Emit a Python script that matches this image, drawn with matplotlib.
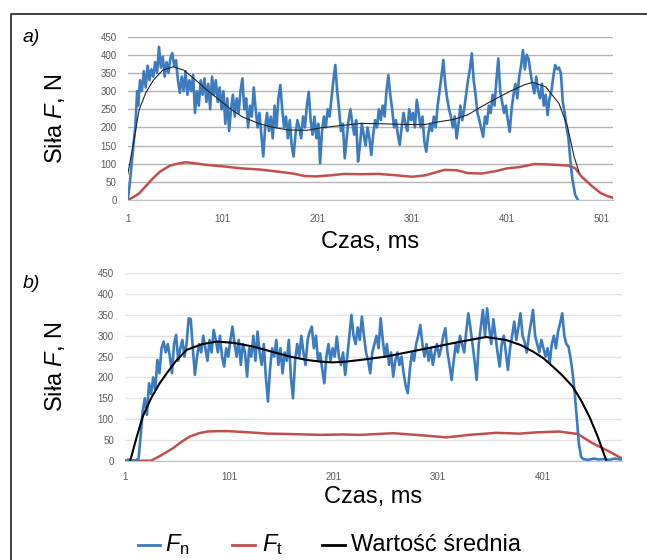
import matplotlib
matplotlib.use('Agg')
import matplotlib.pyplot as plt
from matplotlib.lines import Line2D

plt.rcParams['font.family'] = ['Liberation Sans', 'DejaVu Sans']
plt.rcParams['mathtext.fontset'] = 'custom'
plt.rcParams['mathtext.rm'] = 'Liberation Sans'
plt.rcParams['mathtext.it'] = 'Liberation Sans:italic'

# ---- panel a) data ----
fn_a_t = [1, 3, 5, 7, 9, 11, 12, 14, 16, 18, 20, 22, 24, 26, 28, 30, 32, 34, 36, 38,
          40, 42, 44, 46, 48, 50, 52, 54, 56, 58, 60, 62, 64, 66, 68, 70, 72, 74, 76, 78,
          80, 82, 84, 86, 88, 90, 92, 94, 96, 98, 100, 102, 104, 106, 108, 110, 112, 114, 116, 118,
          120, 122, 124, 126, 128, 130, 132, 134, 136, 138, 140, 142, 144, 146, 148, 150, 152, 154, 156, 158,
          160, 162, 164, 166, 168, 170, 172, 174, 176, 178, 180, 182, 184, 186, 188, 190, 192, 194, 196, 198,
          200, 202, 204, 206, 208, 210, 212, 214, 216, 218, 220, 222, 224, 226, 228, 230, 232, 234, 236, 238,
          240, 242, 244, 246, 248, 250, 252, 254, 256, 258, 260, 262, 264, 266, 268, 270, 272, 274, 276, 278,
          280, 282, 284, 286, 288, 290, 292, 294, 296, 298, 300, 302, 304, 306, 308, 310, 312, 314, 316, 318,
          320, 322, 324, 326, 328, 330, 332, 334, 336, 338, 340, 342, 344, 346, 348, 350, 352, 354, 356, 358,
          360, 362, 364, 366, 368, 370, 372, 374, 376, 378, 380, 382, 384, 386, 388, 390, 392, 394, 396, 398,
          400, 402, 404, 406, 408, 410, 412, 414, 416, 418, 420, 422, 424, 426, 428, 430, 432, 434, 436, 438,
          440, 442, 444, 446, 448, 450, 452, 454, 456, 458, 460, 462, 464, 466, 468, 470, 473, 476]
fn_a = [0, 40, 95, 150, 200, 300, 260, 330, 300, 355, 310, 370, 330, 360, 340, 380, 350, 422, 365, 395,
        340, 380, 350, 390, 405, 370, 385, 330, 295, 340, 300, 355, 290, 330, 300, 345, 240, 300, 260, 330,
        290, 335, 270, 320, 250, 340, 290, 330, 270, 310, 250, 300, 210, 280, 190, 250, 290, 230, 280, 240,
        300, 335, 250, 280, 200, 260, 230, 310, 250, 200, 240, 180, 120, 200, 240, 190, 230, 170, 260, 200,
        280, 317, 250, 200, 230, 170, 220, 150, 120, 180, 220, 200, 170, 230, 200, 260, 298, 220, 180, 230,
        170, 210, 101, 190, 230, 200, 250, 230, 280, 330, 372, 300, 250, 190, 210, 115, 170, 220, 250, 210,
        180, 220, 106, 150, 210, 180, 150, 200, 170, 124, 180, 220, 200, 250, 220, 260, 230, 300, 344, 290,
        250, 200, 220, 180, 152, 200, 240, 210, 190, 250, 220, 240, 200, 276, 240, 200, 230, 160, 133, 180,
        210, 190, 230, 200, 260, 300, 340, 386, 320, 280, 250, 230, 200, 230, 170, 210, 260, 220, 250, 290,
        330, 360, 404, 330, 290, 240, 220, 197, 174, 230, 210, 260, 240, 290, 260, 330, 390, 300, 270, 240,
        260, 220, 188, 250, 290, 320, 280, 340, 370, 413, 360, 400, 388, 350, 320, 294, 340, 300, 280, 320,
        260, 290, 234, 280, 300, 340, 372, 360, 365, 349, 271, 240, 200, 170, 110, 60, 15, 0]

ft_a_t = [1, 7, 13, 20, 27, 35, 45, 55, 62, 70, 83, 100, 122, 140, 160, 175, 188, 200, 215, 230,
          247, 265, 285, 301, 315, 335, 348, 360, 375, 390, 401, 415, 430, 445, 465, 473, 480, 490, 500, 507, 513]
ft_a = [0, 8, 18, 38, 58, 78, 94, 101, 104, 102, 97, 93, 87, 84, 78, 73, 66, 65, 68, 72,
        71, 72, 68, 64, 68, 83, 82, 74, 73, 80, 87, 91, 99, 98, 95, 88, 64, 40, 19, 11, 6]

mean_a_t = [1, 7, 13, 20, 28, 38, 49, 60, 73, 85, 98, 110, 122, 140, 155, 170, 190, 205, 225, 247,
            270, 295, 315, 328, 345, 360, 374, 390, 407, 420, 428, 442, 456, 465, 472, 477]
mean_a = [70, 156, 248, 295, 330, 358, 367, 358, 330, 302, 275, 250, 229, 210, 200, 193, 192, 199, 205, 211,
          210, 208, 208, 215, 222, 235, 257, 280, 303, 318, 324, 312, 266, 202, 119, 78]

# ---- panel b) data ----
fn_b_t = [1, 5, 9, 12, 14, 16, 18, 20, 22, 24, 26, 28, 30, 32, 34, 36, 38, 40, 42, 44,
          46, 48, 50, 52, 54, 56, 58, 60, 62, 64, 66, 68, 70, 72, 74, 76, 78, 80, 82, 84,
          86, 88, 90, 92, 94, 96, 98, 100, 102, 104, 106, 108, 110, 112, 114, 116, 118, 120, 122, 124,
          126, 128, 130, 132, 134, 136, 138, 140, 142, 144, 146, 148, 150, 152, 154, 156, 158, 160, 162, 164,
          166, 168, 170, 172, 174, 176, 178, 180, 182, 184, 186, 188, 190, 192, 194, 196, 198, 200, 202, 204,
          206, 208, 210, 212, 214, 216, 218, 220, 222, 224, 226, 228, 230, 232, 234, 236, 238, 240, 242, 244,
          246, 248, 250, 252, 254, 256, 258, 260, 262, 264, 266, 268, 270, 272, 274, 276, 278, 280, 282, 284,
          286, 288, 290, 292, 294, 296, 298, 300, 302, 304, 306, 308, 310, 312, 314, 316, 318, 320, 322, 324,
          326, 328, 330, 332, 334, 336, 338, 340, 342, 344, 346, 348, 350, 352, 354, 356, 358, 360, 362, 364,
          366, 368, 370, 372, 374, 376, 378, 380, 382, 384, 386, 388, 390, 392, 394, 396, 398, 400, 402, 404,
          406, 408, 410, 412, 414, 416, 418, 420, 422, 424, 426, 428, 430, 432, 434, 436, 438, 440, 445, 450,
          455, 460, 465, 470, 476]
fn_b = [0, 3, 0, 2, 5, 60, 120, 150, 110, 186, 160, 200, 170, 242, 210, 270, 286, 260, 280, 250,
        210, 280, 302, 240, 270, 290, 250, 280, 342, 340, 270, 206, 250, 280, 260, 300, 270, 240, 290, 260,
        314, 290, 260, 300, 250, 226, 270, 250, 290, 322, 280, 250, 290, 230, 280, 260, 202, 270, 250, 300,
        240, 310, 260, 230, 280, 200, 142, 220, 270, 250, 290, 230, 270, 210, 260, 240, 290, 200, 150, 240,
        280, 250, 300, 260, 230, 290, 310, 322, 270, 300, 240, 258, 220, 186, 250, 280, 240, 270, 250, 298,
        250, 230, 260, 206, 250, 300, 350, 300, 280, 320, 290, 346, 300, 260, 240, 210, 260, 280, 300, 270,
        342, 290, 250, 280, 230, 260, 202, 240, 260, 230, 250, 210, 180, 162, 220, 260, 240, 280, 300, 326,
        280, 250, 280, 240, 270, 230, 260, 280, 250, 270, 300, 318, 260, 230, 194, 240, 280, 260, 300, 280,
        260, 310, 354, 320, 280, 240, 194, 280, 320, 362, 300, 366, 320, 280, 340, 300, 260, 226, 280, 300,
        260, 218, 270, 300, 334, 290, 320, 354, 300, 285, 260, 300, 330, 362, 300, 280, 260, 290, 270, 250,
        270, 234, 280, 300, 270, 310, 330, 354, 300, 280, 274, 246, 210, 162, 100, 40, 10, 4, 2, 5,
        3, 4, 2, 5, 3]

ft_b_t = [1, 26, 35, 47, 55, 63, 72, 80, 90, 100, 120, 138, 160, 188, 210, 226, 242, 258, 285, 309,
          331, 357, 379, 395, 417, 435, 449, 465, 476]
ft_b = [0, 0, 12, 30, 45, 58, 66, 70, 71, 71, 68, 65, 64, 62, 63, 62, 64, 66, 61, 56,
        62, 67, 65, 68, 70, 64, 42, 22, 7]

mean_b_t = [6, 12, 18, 26, 34, 41, 50, 60, 75, 89, 105, 124, 140, 159, 175, 188, 200, 213, 230, 251,
            275, 299, 325, 347, 366, 380, 392, 402, 411, 420, 430, 438, 446, 454, 462]
mean_b = [0, 55, 106, 150, 185, 210, 240, 266, 280, 286, 283, 274, 263, 250, 242, 238, 236, 238, 243, 250,
          262, 274, 287, 297, 290, 278, 262, 246, 226, 205, 178, 145, 106, 58, 2]

ticks_a = [1, 101, 201, 301, 401, 501]
ticks_b = [1, 101, 201, 301, 401]
yticks = [0, 50, 100, 150, 200, 250, 300, 350, 400, 450]

blue = '#3d7bbf'
red = '#c0504d'

fig = plt.figure(figsize=(6.47, 5.6), dpi=100)
W, H = 647, 560


def box(l, t, r, b):
    return [l / W, 1 - b / H, (r - l) / W, (b - t) / H]


def style(ax, xlim, xt, gridc, pad_x):
    ax.set_xlim(*xlim)
    ax.set_ylim(0, 450)
    ax.set_yticks(yticks)
    ax.set_xticks(xt)
    ax.yaxis.grid(True, color=gridc, lw=1.0)
    ax.set_axisbelow(True)
    for s in ['left', 'right', 'top']:
        ax.spines[s].set_visible(False)
    ax.spines['bottom'].set_color('#bfbfbf')
    ax.tick_params(length=0, labelsize=7, colors='#595959', pad=8)
    ax.tick_params(axis='x', pad=pad_x)


ax1 = fig.add_axes(box(127.7, 36.7, 613, 200))
ax1.plot(ft_a_t, ft_a, color=red, lw=1.8)
ax1.plot(fn_a_t, fn_a, color=blue, lw=1.9)
ax1.plot(mean_a_t, mean_a, color='#222222', lw=0.8)
style(ax1, (1, 513), ticks_a, '#b5b5b5', 10)
ax1.set_ylabel('Siła $F$, N', fontsize=17, labelpad=24)
ax1.set_xlabel('Czas, ms', fontsize=17, labelpad=5)

ax2 = fig.add_axes(box(125, 273.3, 621.7, 460.7))
ax2.plot(ft_b_t, ft_b, color=red, lw=1.8)
ax2.plot(fn_b_t, fn_b, color=blue, lw=1.9)
ax2.plot(mean_b_t, mean_b, color='black', lw=1.5)
style(ax2, (1, 477), ticks_b, '#e3e3e3', 8)
ax2.set_ylabel('Siła $F$, N', fontsize=17, labelpad=22)
ax2.set_xlabel('Czas, ms', fontsize=17, labelpad=3)

fig.text(31 / W, 1 - 38 / H, 'a)', fontsize=14, style='italic', ha='center', va='center')
fig.text(31 / W, 1 - 283 / H, 'b)', fontsize=14, style='italic', ha='center', va='center')

# frame (top and left only)
fig.add_artist(Line2D([10.5 / W, 10.5 / W, 1], [0, 1 - 13.7 / H, 1 - 13.7 / H],
                      transform=fig.transFigure, color='#404040', lw=1.4))

# legend drawn by hand
ly = 1 - 545 / H
for x0, x1, c, tx, lab in [(138, 160, blue, 165, '$F_\\mathrm{n}$'),
                           (232, 255, red, 262, '$F_\\mathrm{t}$'),
                           (322, 345, 'black', 351, 'Wartość średnia')]:
    fig.add_artist(Line2D([x0 / W, x1 / W], [ly, ly], transform=fig.transFigure, color=c, lw=2))
    fig.text(tx / W, ly, lab, fontsize=17, ha='left', va='center')

fig.savefig('out.png', dpi=100, facecolor='white')
